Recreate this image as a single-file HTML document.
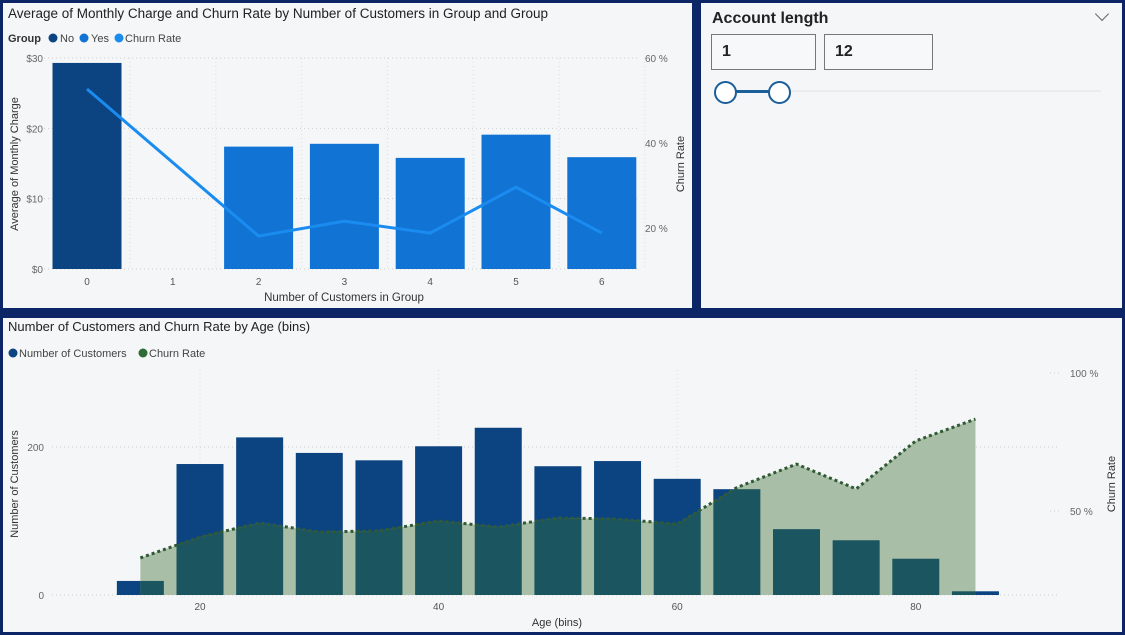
<!DOCTYPE html>
<html><head><meta charset="utf-8"><style>
body{margin:0;width:1125px;height:635px;background:#0b2566;overflow:hidden;font-family:"Liberation Sans",sans-serif;position:relative}
.panel{position:absolute;background:#f4f6f8}
svg text{font-family:"Liberation Sans",sans-serif}
</style></head><body>
<div class="panel" style="left:3px;top:3px;width:689px;height:305px"></div>
<div class="panel" style="left:701px;top:3px;width:421px;height:305px">
  <div style="position:absolute;left:11px;top:7px;font-size:16px;font-weight:bold;color:#222">Account length</div>
  <div style="position:absolute;left:396px;top:6px;width:9px;height:9px;border-right:1.3px solid #666;border-bottom:1.3px solid #666;transform:rotate(45deg)"></div>
  <div style="position:absolute;left:10px;top:31px;width:105px;height:36px;border:1px solid #777;background:#f7f8f9;box-sizing:border-box;font-size:16px;font-weight:bold;line-height:34px;padding-left:10px;color:#222">1</div>
  <div style="position:absolute;left:123px;top:31px;width:109px;height:36px;border:1px solid #777;background:#f7f8f9;box-sizing:border-box;font-size:16px;font-weight:bold;line-height:34px;padding-left:10px;color:#222">12</div>
  <div style="position:absolute;left:24px;top:87px;width:376px;height:2px;background:#ececec"></div>
  <div style="position:absolute;left:24px;top:87px;width:54px;height:3px;background:#1a5e9a"></div>
  <div style="position:absolute;left:13px;top:78px;width:19px;height:19px;border:2px solid #1a5e9a;border-radius:50%;background:#fff"></div>
  <div style="position:absolute;left:67px;top:78px;width:19px;height:19px;border:2px solid #1a5e9a;border-radius:50%;background:#fff"></div>
</div>
<div class="panel" style="left:3px;top:318px;width:1119px;height:314px"></div>

<svg id="top" width="1125" height="635" style="position:absolute;left:0;top:0"></svg>

<script>
// ---- top chart data
const groupCats = ["0","1","2","3","4","5","6"];
const chargeNo = [29.3,null,null,null,null,null,null];
const chargeYes = [null,null,17.4,17.8,15.8,19.1,15.9];
const churnTop = [52.7,null,18.1,21.6,18.8,29.6,18.8];
const leftTicks = ["$0","$10","$20","$30"];
const leftTickVals = [0,10,20,30];
const rightTickVals = [20,40,60];
// ---- bottom chart data
const ageBins = [15,20,25,30,35,40,45,50,55,60,65,70,75,80,85];
const custCounts = [19,177,213,192,182,201,226,174,181,157,143,89,74,49,5];
const churnAge = [33,40.6,45.7,42.4,42.8,46.4,44.2,47.5,47.1,45.3,58.5,67,58,75.4,83.3];
const ageTicks = [20,40,60,80];
const countTicks = [0,200];
const pctTicks = [50,100];

const NS="http://www.w3.org/2000/svg";
const svg=document.getElementById('top');
function mk(tag,attrs,name,parent){const e=document.createElementNS(NS,tag);for(const k in attrs)e.setAttribute(k,attrs[k]);


(parent||svg).appendChild(e);return e;}
function txt(s,x,y,attrs,name,parent){const t=mk('text',Object.assign({x:x,y:y},attrs),name,parent);t.textContent=s;return t;}

// ===== TOP CHART
const tx=i=>87+i*85.8, ty=v=>269-v*7.033, tr=p=>313-p*4.25;
txt("Average of Monthly Charge and Churn Rate by Number of Customers in Group and Group",8,18,{"font-size":13.5,fill:"#222"},"top-chart-title");
txt("Group",8,42,{"font-size":11,"font-weight":"bold",fill:"#333"},"legend-title");
mk('circle',{cx:53,cy:38,r:4.5,fill:"#0b4480"},"legend-no-dot");txt("No",60,42,{"font-size":11,fill:"#444"},"legend-no");
mk('circle',{cx:84,cy:38,r:4.5,fill:"#1173d4"},"legend-yes-dot");txt("Yes",91,42,{"font-size":11,fill:"#444"},"legend-yes");
mk('circle',{cx:119,cy:38,r:4.5,fill:"#1a8cf0"},"legend-churn-dot");txt("Churn Rate",125,42,{"font-size":11,fill:"#444"},"legend-churn");
leftTickVals.forEach((v,i)=>{
 mk('line',{x1:44,x2:640,y1:ty(v),y2:ty(v),stroke:"#ccc","stroke-dasharray":"1,3"},"y-gridline");
 txt(leftTicks[i],43,ty(v)+4,{"font-size":10,fill:"#666","text-anchor":"end"},"y-tick-label");
});
rightTickVals.forEach(v=>txt(v+" %",645,tr(v)+4,{"font-size":10,fill:"#666"},"y2-tick-label"));
groupCats.forEach((c,i)=>{
 mk('line',{x1:tx(i)+43,x2:tx(i)+43,y1:58,y2:269,stroke:"#ddd","stroke-dasharray":"1,3"},"x-gridline");
 txt(c,tx(i),285,{"font-size":10,fill:"#555","text-anchor":"middle"},"x-tick-label");
 if(chargeNo[i]!=null) mk('rect',{x:tx(i)-34.5,y:ty(chargeNo[i]),width:69,height:ty(0)-ty(chargeNo[i]),fill:"#0b4480"},"bar-no-"+c);
 if(chargeYes[i]!=null) mk('rect',{x:tx(i)-34.5,y:ty(chargeYes[i]),width:69,height:ty(0)-ty(chargeYes[i]),fill:"#1173d4"},"bar-yes-"+c);
});
let pts=[];churnTop.forEach((v,i)=>{if(v!=null)pts.push(tx(i)+","+tr(v));});
mk('polyline',{points:pts.join(" "),fill:"none",stroke:"#1a8cf0","stroke-width":3},"churn-rate-line");
txt("Number of Customers in Group",344,301,{"font-size":11.5,fill:"#333","text-anchor":"middle"},"x-axis-title");
txt("Average of Monthly Charge",18,164,{"font-size":11,fill:"#333","text-anchor":"middle",transform:"rotate(-90 18 164)"},"y-axis-title");
txt("Churn Rate",684,164,{"font-size":11,fill:"#333","text-anchor":"middle",transform:"rotate(-90 684 164)"},"y2-axis-title");

// ===== BOTTOM CHART
const bx=a=>200+(a-20)*11.93, by=v=>595-v*0.74, br=p=>649-p*2.76;
txt("Number of Customers and Churn Rate by Age (bins)",8,331,{"font-size":13,fill:"#222"},"bottom-chart-title");
mk('circle',{cx:13,cy:353,r:4.5,fill:"#0b4480"},"legend-customers-dot");txt("Number of Customers",19,357,{"font-size":11,fill:"#444"},"legend-customers");
mk('circle',{cx:143,cy:353,r:4.5,fill:"#2f6b35"},"legend-churn-age-dot");txt("Churn Rate",149,357,{"font-size":11,fill:"#444"},"legend-churn-age");
countTicks.forEach(v=>{
 mk('line',{x1:52,x2:1060,y1:by(v),y2:by(v),stroke:"#ccc","stroke-dasharray":"1,3"},"y-gridline-bottom");
 txt(String(v),44,by(v)+4,{"font-size":10,fill:"#666","text-anchor":"end"},"count-tick-label");
});
pctTicks.forEach(v=>{
 mk('line',{x1:1050,x2:1062,y1:br(v),y2:br(v),stroke:"#ccc","stroke-dasharray":"1,3"},"y2-gridline-bottom");
 txt(v+" %",1070,br(v)+4,{"font-size":10,fill:"#666"},"pct-tick-label");
});
ageTicks.forEach(a=>{
 mk('line',{x1:bx(a),x2:bx(a),y1:370,y2:595,stroke:"#ddd","stroke-dasharray":"1,3"},"age-gridline");
 txt(String(a),bx(a),610,{"font-size":10,fill:"#555","text-anchor":"middle"},"age-tick-label");
});
const bw=47;
ageBins.forEach((a,i)=>mk('rect',{x:bx(a)-bw/2,y:by(custCounts[i]),width:bw,height:by(0)-by(custCounts[i]),fill:"#0b4480"},"bar-age-"+a));
let ap=ageBins.map((a,i)=>bx(a)+","+br(churnAge[i]));
const areaD="M"+bx(ageBins[0])+","+by(0)+" L"+ap.join(" L")+" L"+bx(ageBins[ageBins.length-1])+","+by(0)+" Z";
const defs=mk('defs',{},"defs");
const cp=mk('clipPath',{id:"areaClip"},"area-clip",defs);
mk('path',{d:areaD},"area-clip-path",cp);
mk('path',{d:areaD,fill:"#a9bea6"},"churn-area");
const g=mk('g',{"clip-path":"url(#areaClip)"},"overlap-group");
ageBins.forEach((a,i)=>mk('rect',{x:bx(a)-bw/2,y:by(custCounts[i]),width:bw,height:by(0)-by(custCounts[i]),fill:"#1b5560"},"bar-overlap-"+a,g));
mk('polyline',{points:ap.join(" "),fill:"none",stroke:"#2f5a34","stroke-width":3,"stroke-dasharray":"3,3"},"churn-age-line");
txt("Age (bins)",557,626,{"font-size":11,fill:"#333","text-anchor":"middle"},"age-axis-title");
txt("Number of Customers",18,484,{"font-size":11,fill:"#333","text-anchor":"middle",transform:"rotate(-90 18 484)"},"count-axis-title");
txt("Churn Rate",1115,484,{"font-size":11,fill:"#333","text-anchor":"middle",transform:"rotate(-90 1115 484)"},"churn-axis-title");
</script>
</body></html>
